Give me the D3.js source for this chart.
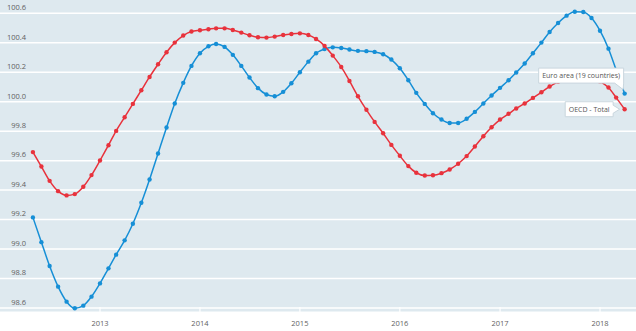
<!DOCTYPE html>
<html><head><meta charset="utf-8">
<script src="https://cdn.jsdelivr.net/npm/d3@7"></script>
<style>html,body{margin:0;padding:0;background:#fff;}svg{display:block;}</style>
</head><body>
<script>
const months = ["2012-05","2012-06","2012-07","2012-08","2012-09","2012-10","2012-11","2012-12",
"2013-01","2013-02","2013-03","2013-04","2013-05","2013-06","2013-07","2013-08","2013-09","2013-10","2013-11","2013-12",
"2014-01","2014-02","2014-03","2014-04","2014-05","2014-06","2014-07","2014-08","2014-09","2014-10","2014-11","2014-12",
"2015-01","2015-02","2015-03","2015-04","2015-05","2015-06","2015-07","2015-08","2015-09","2015-10","2015-11","2015-12",
"2016-01","2016-02","2016-03","2016-04","2016-05","2016-06","2016-07","2016-08","2016-09","2016-10","2016-11","2016-12",
"2017-01","2017-02","2017-03","2017-04","2017-05","2017-06","2017-07","2017-08","2017-09","2017-10","2017-11","2017-12",
"2018-01","2018-02","2018-03","2018-04"];
const euroArea = [99.215,99.047,98.885,98.745,98.643,98.598,98.616,98.677,98.767,98.869,98.962,99.059,
99.172,99.314,99.472,99.649,99.825,99.988,100.128,100.243,100.329,100.376,100.392,100.372,
100.318,100.243,100.164,100.092,100.049,100.037,100.067,100.125,100.200,100.272,100.329,100.358,
100.369,100.365,100.354,100.345,100.343,100.338,100.322,100.286,100.227,100.146,100.060,99.985,
99.922,99.879,99.856,99.856,99.884,99.931,99.988,100.042,100.094,100.146,100.198,100.259,
100.329,100.401,100.473,100.534,100.584,100.611,100.609,100.568,100.482,100.360,100.216,100.055];
const oecdTotal = [99.658,99.560,99.463,99.393,99.364,99.373,99.423,99.502,99.601,99.705,99.802,99.895,
99.985,100.078,100.168,100.254,100.336,100.401,100.449,100.476,100.485,100.492,100.498,100.498,
100.487,100.469,100.451,100.437,100.435,100.442,100.453,100.460,100.464,100.453,100.426,100.379,
100.313,100.236,100.141,100.037,99.945,99.863,99.786,99.707,99.633,99.563,99.518,99.499,
99.501,99.515,99.540,99.579,99.631,99.696,99.766,99.827,99.879,99.918,99.954,99.988,
100.026,100.064,100.103,100.135,100.158,100.172,100.175,100.165,100.138,100.096,100.028,99.949];
const yTicks = [98.6,98.8,99.0,99.2,99.4,99.6,99.8,100.0,100.2,100.4,100.6];
const xTickYears = ["2013","2014","2015","2016","2017","2018"];
const seriesNames = ["Euro area (19 countries)","OECD - Total"];

const W = 636, H = 331;
const parseM = d3.timeParse("%Y-%m");
const parseY = d3.timeParse("%Y");
const svg = d3.select("body").append("svg").attr("width", W).attr("height", H);
const font = "'Open Sans', 'Noto Sans', sans-serif";

const x = d3.scaleTime().domain([parseY("2013"), parseY("2018")]).range([100, 600]);
const y = d3.scaleLinear().domain([98.6, 100.6]).range([308, 13.3]);

svg.append("rect").attr("x",0).attr("y",0).attr("width",W).attr("height",311.5).attr("fill","#dee9ef");

// gridlines
svg.append("g").selectAll("line").data(yTicks).join("line")
  .attr("x1",0).attr("x2",W).attr("y1",d=>y(d)).attr("y2",d=>y(d))
  .attr("stroke","#ffffff").attr("stroke-width",1.5);

// y labels
svg.append("g").selectAll("text").data(yTicks).join("text")
  .attr("x",26).attr("y",d=>y(d)-3.2).attr("text-anchor","end")
  .attr("font-family",font).attr("font-size","7.5px").attr("fill","#5f5f5f")
  .text(d=>d3.format(".1f")(d));

// x ticks
const xg = svg.append("g");
xg.selectAll("line").data(xTickYears).join("line")
  .attr("x1",d=>x(parseY(d))).attr("x2",d=>x(parseY(d)))
  .attr("y1",307).attr("y2",312.5).attr("stroke","#fff").attr("stroke-width",1.2);
xg.selectAll("text").data(xTickYears).join("text")
  .attr("x",d=>x(parseY(d))).attr("y",326).attr("text-anchor","middle")
  .attr("font-family",font).attr("font-size","7.5px").attr("fill","#5f5f5f")
  .text(d=>d);

const series = [
  {name: seriesNames[0], values: euroArea, color: "#168fd6"},
  {name: seriesNames[1], values: oecdTotal, color: "#e8323c"}
];
const line = d3.line().x((d,i)=>x(parseM(months[i]))).y(d=>y(d)).curve(d3.curveMonotoneX);
series.forEach(s=>{
  const g = svg.append("g");
  g.append("path").attr("d", line(s.values)).attr("fill","none")
    .attr("stroke", s.color).attr("stroke-width",1.5);
  g.selectAll("circle").data(s.values).join("circle")
    .attr("cx",(d,i)=>x(parseM(months[i]))).attr("cy",d=>y(d)).attr("r",2.2)
    .attr("fill", s.color);
});

// callout labels
function callout(name, lastVal, kind){
  const px = x(parseM(months[months.length-1])), py = y(lastVal);
  const g = svg.append("g");
  const t = g.append("text").attr("font-family",font).attr("font-size","7px").attr("fill","#555").text(name);
  const tw = t.node().getComputedTextLength();
  let bx, by, bw = tw + 7, bh = 15, d;
  if (kind === "below") {
    bx = px - bw - 1; by = py - 25.5;
    const r = bx + bw, b = by + bh;
    d = `M${bx},${by}H${r}V${b}L${px-1.5},${py-4}L${r-9},${b}H${bx}Z`;
  } else {
    bx = px - bw - 11.5; by = py - 7.5;
    const r = bx + bw, b = by + bh;
    d = `M${bx},${by}H${r}V${py-4}L${px-5},${py}L${r},${py+4}V${b}H${bx}Z`;
  }
  g.insert("path","text").attr("d",d).attr("fill","#fff").attr("stroke","#c9d6de").attr("stroke-width",1);
  t.attr("x", bx+3.5).attr("y", by+10.3);
}
callout(seriesNames[0], euroArea[euroArea.length-1], "below");
callout(seriesNames[1], oecdTotal[oecdTotal.length-1], "right");
</script>
</body></html>
